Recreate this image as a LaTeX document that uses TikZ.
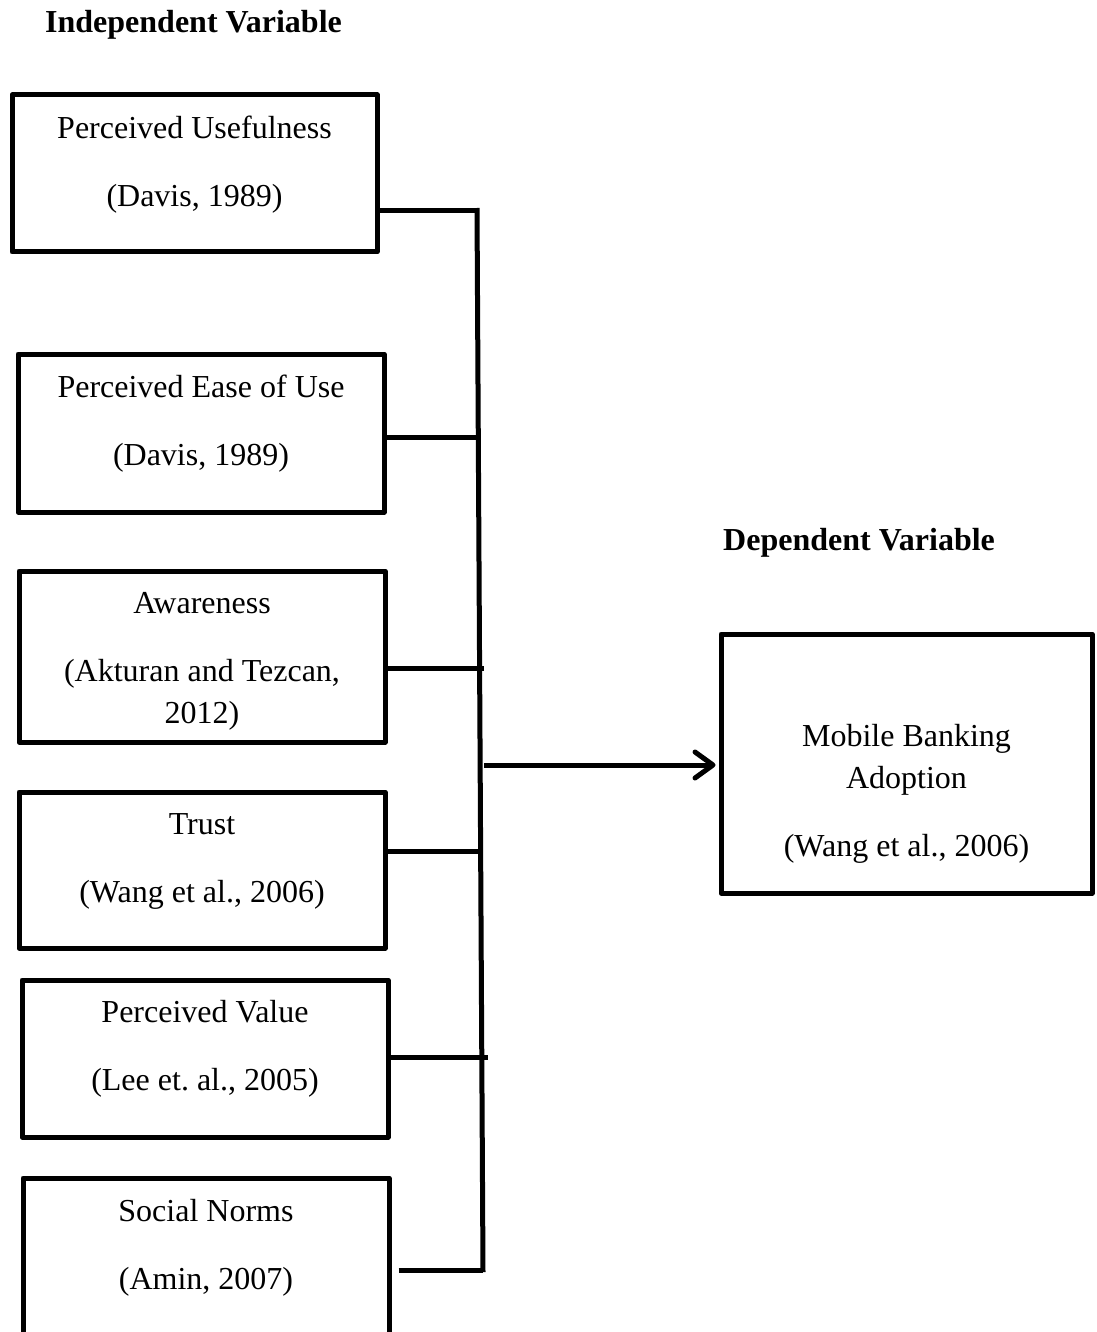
\documentclass[tikz,border=0pt]{standalone}
\usepackage{fontspec}
\setmainfont{Liberation Serif}
\usepackage{tikz}
\usetikzlibrary{arrows.meta,positioning}
\frenchspacing

\begin{document}
\begin{tikzpicture}[x=1pt,y=-1pt,
          var/.style={rectangle,draw=black,line width=5pt,inner sep=0pt,
                      line join=round},
          txt/.style={anchor=north,align=center,inner sep=0pt,
                      font=\fontsize{32}{42}\selectfont},
          head/.style={anchor=base west,inner sep=0pt,
                       font=\fontsize{32}{38}\selectfont\bfseries},
          link/.style={draw=black,line width=5pt},
        ]
        \clip (0,0) rectangle (1096,1332);
        % headings
        \node[head] (indep) at (45,33){Independent Variable};
        \node[head] (dep)   at (723,550){Dependent Variable};
        % independent variables
        \node[var,minimum width=365pt,minimum height=157pt] (pu)  at (194.5,173.5){};
        \node[txt] (putxt) at ([yshift=-23pt]pu.north){Perceived Usefulness\\[26pt](Davis, 1989)};
        \node[var,minimum width=366pt,minimum height=158pt] (peu) at (201,433){};
        \node[txt] (peutxt) at ([yshift=-23pt]peu.north){Perceived Ease of Use\\[26pt](Davis, 1989)};
        \node[var,minimum width=366pt,minimum height=171pt] (aw)  at (202,656.5){};
        \node[txt] (awtxt) at ([yshift=-24pt]aw.north){Awareness\\[26pt](Akturan and Tezcan,\\2012)};
        \node[var,minimum width=366pt,minimum height=156pt] (tr)  at (202,870){};
        \node[txt] (trtxt) at ([yshift=-24pt]tr.north){Trust\\[26pt](Wang et al., 2006)};
        \node[var,minimum width=366pt,minimum height=157pt] (pv)  at (205,1058.5){};
        \node[txt] (pvtxt) at ([yshift=-23pt]pv.north){Perceived Value\\[26pt](Lee et. al., 2005)};
        \node[var,minimum width=366pt,minimum height=222pt] (sn)  at (206,1289){};
        \node[txt] (sntxt) at ([yshift=-24pt]sn.north){Social Norms\\[26pt](Amin, 2007)};
        % dependent variable
        \node[var,minimum width=371pt,minimum height=259pt] (mba) at (906.5,763.5){};
        \node[txt] (mbatxt) at ([yshift=-93pt]mba.north){Mobile Banking\\Adoption\\[26pt](Wang et al., 2006)};
        % bus
        \coordinate (bustop) at (477,208);
        \coordinate (busbot) at (483,1272);
        \coordinate (j1) at (477,211);
        \coordinate (j2) at (478,437);
        \coordinate (j3) at (484,668);
        \coordinate (j4) at (483,851);
        \coordinate (j5) at (488,1057);
        \coordinate (j6) at (483,1270);
        \coordinate (jarr) at (484,765);
        \draw[link] (bustop)--(busbot);
        \foreach \a/\b in {pu/j1,peu/j2,aw/j3,tr/j4,pv/j5}{
          \draw[link](\a.east |- \b)--(\b);
        }
        \draw[link] (sn.east |- j6) ++(7,0) -- (j6);
        \draw[link,-{Straight Barb[length=18pt,width=26pt,round]}] (jarr) -- ([xshift=-3pt]mba.west |- jarr);
      \end{tikzpicture}
\end{document}
